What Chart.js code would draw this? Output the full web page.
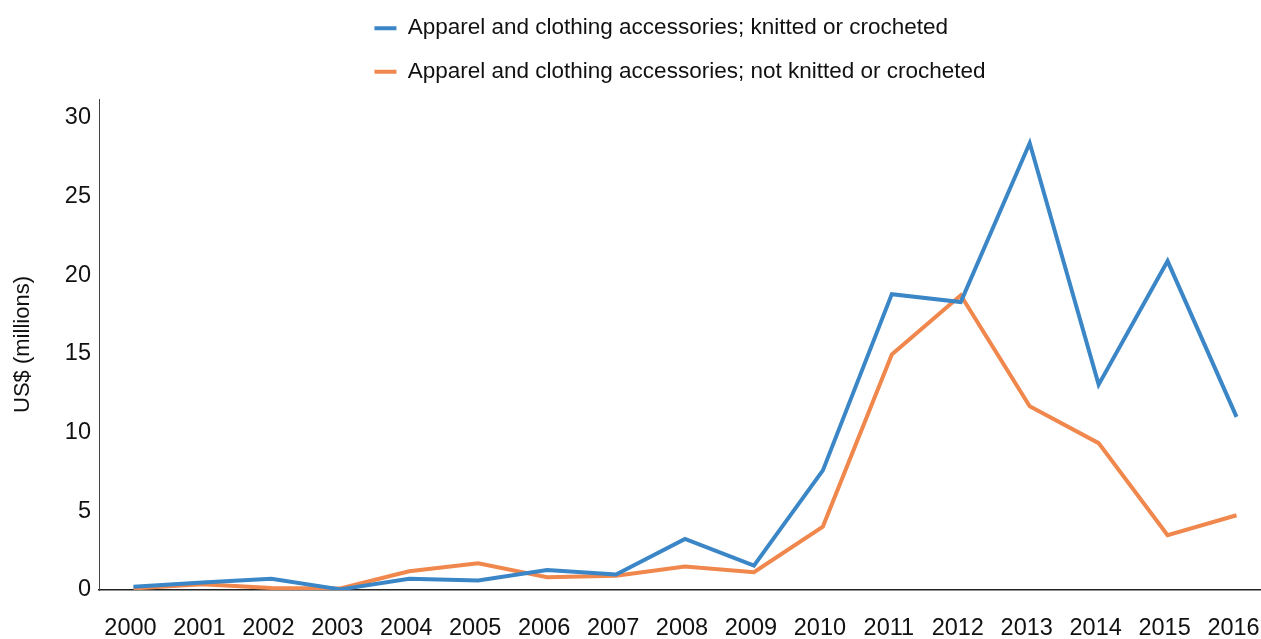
<!DOCTYPE html>
<html>
<head>
<meta charset="utf-8">
<script src="https://cdn.jsdelivr.net/npm/chart.js@4.4.1/dist/chart.umd.min.js"></script>
<style>
  html, body { margin: 0; padding: 0; background: #ffffff; overflow: hidden; }
  #wrap { width: 1261px; height: 639px; position: relative; }
</style>
</head>
<body>
<div id="wrap"><canvas id="chart"></canvas></div>
<script>
// ---- data ----
const years = ['2000','2001','2002','2003','2004','2005','2006','2007','2008',
               '2009','2010','2011','2012','2013','2014','2015','2016'];
const knitted = [0.2, 0.47, 0.72, 0.04, 0.72, 0.6, 1.27, 0.98, 3.25,
                 1.55, 7.6, 18.8, 18.3, 28.4, 13.05, 20.9, 11.0];
const notKnitted = [0.1, 0.36, 0.13, 0.1, 1.19, 1.7, 0.81, 0.91, 1.49,
                    1.13, 4.03, 14.97, 18.73, 11.68, 9.33, 3.48, 4.75];
const seriesNames = ['Apparel and clothing accessories; knitted or crocheted',
                     'Apparel and clothing accessories; not knitted or crocheted'];
const yAxisTitle = 'US$ (millions)';
const yMin = 0, yMax = 31.2, yStep = 5;

// ---- styling ----
const FONT = "'Liberation Sans', Arial, sans-serif";
const BLUE = '#3a86c6';
const ORANGE = '#f0874c';
const X_EXTEND = 10;   // plot's category band runs slightly past the right canvas edge

// legend: one item per row, rows left-aligned, block centred over the plot area
const legendRows = {
  id: 'legendRows',
  beforeLayout(chart) {
    const lg = chart.legend;
    if (!lg || lg._rowsPatched) return;
    const orig = lg._fitRows;
    lg._fitRows = function (a, b, c, d) {
      const saved = this.maxWidth;
      this.maxWidth = 700;
      const h = orig.call(this, a, b, c, d);
      this.maxWidth = saved;
      return h + 2;
    };
    lg._rowsPatched = true;
  },
  afterLayout(chart) {
    const xs = chart.scales.x;
    xs.right += X_EXTEND;
    xs.width += X_EXTEND;
    xs.configure();
    const lg = chart.legend;
    if (!lg || !lg.lineWidths) return;
    const pad = lg.options.labels.padding;
    const maxW = Math.max(...lg.lineWidths) - pad;
    const ca = chart.chartArea;
    const start = (ca.left + ca.right) / 2 - maxW / 2;
    const L = lg.left + pad + lg.right - 2 * start;
    lg.lineWidths = lg.lineWidths.map(() => L);
    lg.top -= 4;
    lg.bottom -= 4;
  }
};

new Chart(document.getElementById('chart'), {
  type: 'line',
  data: {
    labels: years,
    datasets: [
      { label: seriesNames[0], data: knitted, borderColor: BLUE, backgroundColor: BLUE,
        borderWidth: 4, pointRadius: 0, tension: 0, fill: false },
      { label: seriesNames[1], data: notKnitted, borderColor: ORANGE, backgroundColor: ORANGE,
        borderWidth: 4, pointRadius: 0, tension: 0, fill: false }
    ]
  },
  options: {
    responsive: true,
    maintainAspectRatio: false,
    animation: false,
    devicePixelRatio: 1,
    layout: { padding: 0 },
    plugins: {
      legend: {
        position: 'top',
        align: 'center',
        labels: {
          boxWidth: 22,
          boxHeight: 4,
          padding: 21,
          color: '#111111',
          font: { family: FONT, size: 22.5 },
          generateLabels(chart) {
            return Chart.defaults.plugins.legend.labels.generateLabels(chart)
              .map(item => Object.assign(item, { lineWidth: 0 }));
          }
        }
      },
      tooltip: { enabled: false }
    },
    scales: {
      x: {
        type: 'category',
        offset: true,
        grid: { display: true, drawOnChartArea: false, drawTicks: true, tickLength: 19,
                color: 'rgba(0,0,0,0)' },
        border: { display: true, color: '#222222', width: 1.5 },
        ticks: { color: '#111111', padding: 5, labelOffset: -3, maxRotation: 0, autoSkip: false,
                 font: { family: FONT, size: 23.5 } },
        afterFit(scale) { scale.height = 49; }
      },
      y: {
        min: yMin,
        max: yMax,
        grid: { display: false, drawTicks: false },
        border: { display: true, color: '#444444', width: 1 },
        ticks: { stepSize: yStep, includeBounds: false, color: '#111111', padding: 8,
                 font: { family: FONT, size: 23.5 } },
        title: { display: true, text: yAxisTitle, color: '#111111',
                 padding: { top: 10, bottom: 4 },
                 font: { family: FONT, size: 22 } },
        afterFit(scale) { scale.width = 99; }
      }
    }
  },
  plugins: [legendRows]
});
</script>
</body>
</html>
